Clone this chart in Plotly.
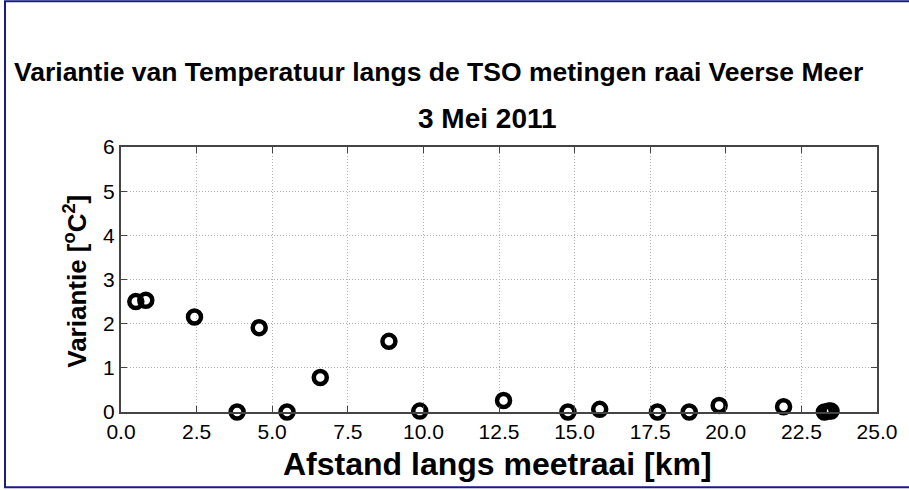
import plotly.graph_objects as go

# Data
afstand_km = [0.49, 0.82, 2.43, 3.84, 4.57, 5.49, 6.59, 8.86, 9.88, 12.65,
              14.78, 15.83, 17.74, 18.79, 19.78, 21.91, 23.26, 23.40, 23.48]
variantie = [2.50, 2.53, 2.15, 0.0, 1.91, 0.0, 0.78, 1.60, 0.02, 0.26,
             0.0, 0.06, 0.0, 0.0, 0.15, 0.12, 0.0, 0.02, 0.02]

x_ticks = [0, 2.5, 5, 7.5, 10, 12.5, 15, 17.5, 20, 22.5, 25]
x_tick_labels = ["0.0", "2.5", "5.0", "7.5", "10.0", "12.5", "15.0", "17.5", "20.0", "22.5", "25.0"]
y_ticks = [0, 1, 2, 3, 4, 5, 6]

title = "Variantie van Temperatuur langs de TSO metingen raai Veerse Meer"
subtitle = "3 Mei 2011"
x_label = "Afstand langs meetraai [km]"
y_label = "Variantie [<sup>o</sup>C<sup>2</sup>]"

W, H = 909, 490
L, R, T, B = 121, 877, 147, 412.5

def px(xp):
    return (xp - L) / (R - L)

def py(yp):
    return (B - yp) / (B - T)

FONT = "Liberation Sans, Arial, sans-serif"

fig = go.Figure()
fig.add_trace(go.Scatter(
    x=afstand_km, y=variantie, mode="markers",
    marker=dict(symbol="circle-open", size=13, color="black",
                line=dict(width=4.5, color="black")),
    cliponaxis=False, showlegend=False,
))

axis_common = dict(
    showline=True, linecolor="#444", linewidth=2, mirror="allticks",
    ticks="inside", ticklen=6, tickcolor="#444", tickwidth=1,
    showgrid=True, gridcolor="#b0b0b0", griddash="1px,2px", gridwidth=1,
    zeroline=False, tickfont=dict(family=FONT, size=21, color="black"),
)

fig.update_xaxes(range=[0, 25], tickvals=x_ticks, ticktext=x_tick_labels, **axis_common)
fig.update_yaxes(range=[0, 6], tickvals=y_ticks, **axis_common)

fig.add_annotation(text=f"<b>{title}</b>", xref="paper", yref="paper",
                   x=px(438), y=py(72), showarrow=False, xanchor="center", yanchor="middle",
                   font=dict(family=FONT, size=26.5, color="black"))
fig.add_annotation(text=f"<b>{subtitle}</b>", xref="paper", yref="paper",
                   x=px(487), y=py(118), showarrow=False, xanchor="center", yanchor="middle",
                   font=dict(family=FONT, size=28, color="black"))
fig.add_annotation(text=f"<b>{x_label}</b>", xref="paper", yref="paper",
                   x=px(497), y=py(465), showarrow=False, xanchor="center", yanchor="middle",
                   font=dict(family=FONT, size=32, color="black"))
fig.add_annotation(text=f"<b>{y_label}</b>", xref="paper", yref="paper",
                   x=px(76), y=py(282), showarrow=False, xanchor="center", yanchor="middle",
                   textangle=-90, font=dict(family=FONT, size=26, color="black"))

# outer navy frame
fig.add_shape(type="rect", xref="paper", yref="paper",
              x0=px(5), x1=px(915), y0=py(488), y1=py(1),
              line=dict(color="#1a1a8a", width=2), layer="above")

fig.update_layout(
    width=W, height=H,
    margin=dict(l=L, r=W - R, t=T, b=H - B),
    paper_bgcolor="white", plot_bgcolor="white",
)

fig.write_html("out.html", config={"displayModeBar": False},
               post_script="document.body.style.margin='0';")
